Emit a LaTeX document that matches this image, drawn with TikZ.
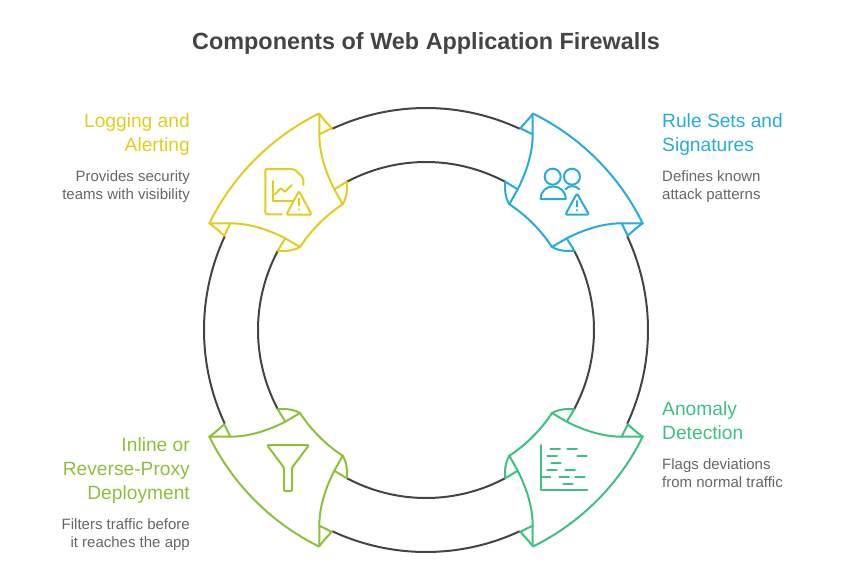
\documentclass[tikz,border=0pt]{standalone}
\usepackage{fontspec}
\setmainfont{Liberation Sans}
\definecolor{ringc}{HTML}{444444}
\definecolor{yellowc}{HTML}{E2CD1C}
\definecolor{bluec}{HTML}{26ABDC}
\definecolor{greenc}{HTML}{3CC083}
\definecolor{limec}{HTML}{8FBF3A}
\definecolor{descc}{HTML}{666666}
\tikzset{
  ringline/.style={draw=ringc,line width=2pt},
  wedgeline/.style={line width=2pt,line join=round,line cap=round},
  iconline/.style={line width=2pt,line join=round,line cap=round},
  titletext/.style={inner sep=0pt,text=ringc,font=\fontsize{23.4}{28}\selectfont\bfseries},
  headleft/.style={inner sep=0pt,anchor=north east,align=right,font=\fontsize{19.2}{24}\selectfont},
  headright/.style={inner sep=0pt,anchor=north west,align=left,font=\fontsize{19.2}{24}\selectfont},
  descleft/.style={inner sep=0pt,anchor=north east,align=right,text=descc,font=\fontsize{15}{18}\selectfont},
  descright/.style={inner sep=0pt,anchor=north west,align=left,text=descc,font=\fontsize{15}{18}\selectfont},
}
\newcommand{\wedgeshape}[1]{%
  % outer and inner arcs
  \draw[wedgeline,draw=#1] plot[smooth,domain=243.7:206.2,samples=20] ({241.5*cos(\x)},{241.5*sin(\x)});
  \draw[wedgeline,draw=#1] plot[smooth,domain=213.4:236.5,samples=12] ({150.9*cos(\x)},{150.9*sin(\x)});
  % back curves
  \draw[wedgeline,draw=#1] (-106.7,-216) -- (-106.7,-195.7) .. controls (-106.7,-177) and (-100.5,-158) .. (-91.7,-140.7) -- (-83.3,-125.7);
  \draw[wedgeline,draw=#1] (-216.7,-106.7) -- (-195.7,-106.7) .. controls (-177,-106.7) and (-158,-100.5) .. (-140.7,-91.7) -- (-126,-83);
  % small triangles
  \draw[wedgeline,draw=#1] (-106.7,-216) .. controls (-102,-210) and (-98,-206) .. (-94.3,-201.7) -- (-106.7,-195.7);
  \draw[wedgeline,draw=#1] (-83.3,-125.7) .. controls (-79,-133) and (-78.5,-141) .. (-79.3,-148.3) -- (-91.7,-140.7);
  \draw[wedgeline,draw=#1] (-216.7,-106.7) .. controls (-210,-102) and (-206,-98) .. (-201.7,-94.3) -- (-195.7,-106.7);
  \draw[wedgeline,draw=#1] (-126,-83) .. controls (-133,-79) and (-141,-78.5) .. (-148.3,-79.3) -- (-140.7,-91.7);
}
\begin{document}
\begin{tikzpicture}[x=1pt,y=-1pt]
\useasboundingbox (0,0) rectangle (852,584);
\node[titletext] (title) at (426,43) {Components of Web Application Firewalls};
% ring
\begin{scope}[shift={(426,330)}]
  \foreach \a/\b in {245/295,155/205,65/115,-25/25}
    \draw[ringline] plot[smooth,domain=\a:\b,samples=30] ({222*cos(\x)},{222*sin(\x)});
  \foreach \a/\b in {241.9/298.1,151.9/208.1,61.9/118.1,-28.1/28.1}
    \draw[ringline] plot[smooth,domain=\a:\b,samples=30] ({168*cos(\x)},{168*sin(\x)});
  \begin{scope}[xscale=1,yscale=1]\wedgeshape{yellowc}\end{scope}
  \begin{scope}[xscale=-1,yscale=1]\wedgeshape{bluec}\end{scope}
  \begin{scope}[xscale=-1,yscale=-1]\wedgeshape{greenc}\end{scope}
  \begin{scope}[xscale=1,yscale=-1]\wedgeshape{limec}\end{scope}
\end{scope}
% yellow icon
\begin{scope}[shift={(190,95)},scale=1/3,iconline,draw=yellowc]
  \draw[rounded corners=2pt] (275,358) -- (226,358) -- (226,222) -- (312,222) -- (340,248) -- (340,270);
  \draw (248,258) -- (248,318) -- (308,318);
  \draw (255,298) -- (272,280) -- (285,290) -- (305,270);
  \draw[rounded corners=2pt] (327,288) -- (365,359) -- (289,359) -- cycle;
  \draw (327,310) -- (327,331);
  \draw (327,343) -- (327,344);
\end{scope}
% blue icon
\begin{scope}[shift={(480,95)},scale=1/3,iconline,draw=bluec]
  \draw (218,245) circle[radius=24];
  \draw (276,245) circle[radius=24];
  \draw (182,312) -- (257,312) .. controls (257,262) and (182,262) .. (182,312);
  \draw (256,283) .. controls (268,270) and (286,270) .. (298,283);
  \draw[rounded corners=2pt] (291,295) -- (327,359) -- (256,359) -- cycle;
  \draw (291,318) -- (291,335);
  \draw (291,345) -- (291,346);
\end{scope}
% green icon
\begin{scope}[shift={(480,395)},scale=1/3,iconline,draw=greenc]
  \draw (184,150) -- (184,286) -- (322,286);
  \foreach \xa/\xb/\yy in {211/240/162,262/291/162,202/231/184,292/320/184,214/242/205,202/230/226,256/285/226,184/211/246,238/267/246,285/314/246,250/278/267}
    \draw (\xa,\yy) -- (\xb,\yy);
\end{scope}
% lime icon
\begin{scope}[shift={(195,395)},scale=1/3,iconline,draw=limec]
  \draw[rounded corners=1.2pt] (216,150) -- (342,150) -- (291,218) -- (291,288) -- (267,288) -- (267,218) -- cycle;
\end{scope}
% labels
\node[headleft,text=yellowc] (h1) at (190,113) {Logging and\\Alerting};
\node[descleft] (d1) at (190,170.5) {Provides security\\teams with visibility};
\node[headright,text=bluec] (h2) at (662,113) {Rule Sets and\\Signatures};
\node[descright] (d2) at (662,170.5) {Defines known\\attack patterns};
\node[headright,text=greenc] (h3) at (662,401) {Anomaly\\Detection};
\node[descright] (d3) at (662,458.5) {Flags deviations\\from normal traffic};
\node[headleft,text=limec] (h4) at (190,437) {Inline or\\Reverse-Proxy\\Deployment};
\node[descleft] (d4) at (190,518.5) {Filters traffic before\\it reaches the app};
\end{tikzpicture}
\end{document}
